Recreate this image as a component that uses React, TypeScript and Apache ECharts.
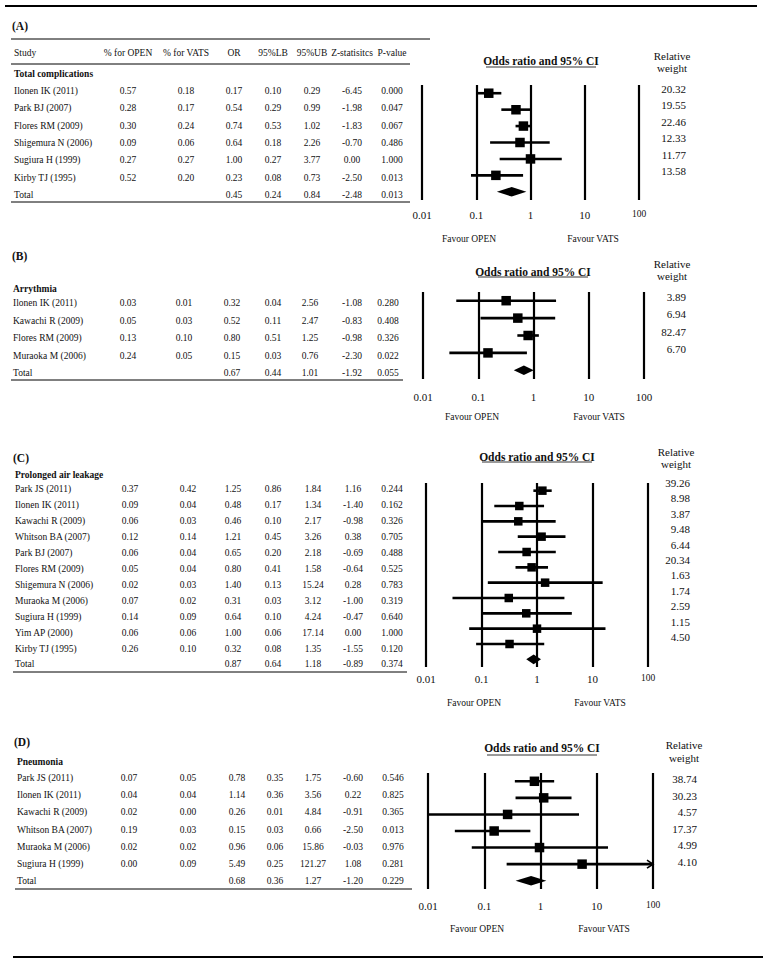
import React, { useEffect, useRef } from "react";
import * as echarts from "echarts";

// ---------- DATA ----------
const studiesA = ["Ilonen IK (2011)", "Park BJ (2007)", "Flores RM (2009)", "Shigemura N (2006)", "Sugiura H (1999)", "Kirby TJ (1995)"];
const openA = [0.57, 0.28, 0.30, 0.09, 0.27, 0.52];
const vatsA = [0.18, 0.17, 0.24, 0.06, 0.27, 0.20];
const orA = [0.17, 0.54, 0.74, 0.64, 1.00, 0.23];
const lbA = [0.10, 0.29, 0.53, 0.18, 0.27, 0.08];
const ubA = [0.29, 0.99, 1.02, 2.26, 3.77, 0.73];
const zA = [-6.45, -1.98, -1.83, -0.70, 0.00, -2.50];
const pA = [0.000, 0.047, 0.067, 0.486, 1.000, 0.013];
const weightA = [20.32, 19.55, 22.46, 12.33, 11.77, 13.58];
const totalA = [0.45, 0.24, 0.84, -2.48, 0.013];

const studiesB = ["Ilonen IK (2011)", "Kawachi R (2009)", "Flores RM (2009)", "Muraoka M (2006)"];
const openB = [0.03, 0.05, 0.13, 0.24];
const vatsB = [0.01, 0.03, 0.10, 0.05];
const orB = [0.32, 0.52, 0.80, 0.15];
const lbB = [0.04, 0.11, 0.51, 0.03];
const ubB = [2.56, 2.47, 1.25, 0.76];
const zB = [-1.08, -0.83, -0.98, -2.30];
const pB = [0.280, 0.408, 0.326, 0.022];
const weightB = [3.89, 6.94, 82.47, 6.70];
const totalB = [0.67, 0.44, 1.01, -1.92, 0.055];

const studiesC = ["Park JS (2011)", "Ilonen IK (2011)", "Kawachi R (2009)", "Whitson BA (2007)", "Park BJ (2007)", "Flores RM (2009)", "Shigemura N (2006)", "Muraoka M (2006)", "Sugiura H (1999)", "Yim AP (2000)", "Kirby TJ (1995)"];
const openC = [0.37, 0.09, 0.06, 0.12, 0.06, 0.05, 0.02, 0.07, 0.14, 0.06, 0.26];
const vatsC = [0.42, 0.04, 0.03, 0.14, 0.04, 0.04, 0.03, 0.02, 0.09, 0.06, 0.10];
const orC = [1.25, 0.48, 0.46, 1.21, 0.65, 0.80, 1.40, 0.31, 0.64, 1.00, 0.32];
const lbC = [0.86, 0.17, 0.10, 0.45, 0.20, 0.41, 0.13, 0.03, 0.10, 0.06, 0.08];
const ubC = [1.84, 1.34, 2.17, 3.26, 2.18, 1.58, 15.24, 3.12, 4.24, 17.14, 1.35];
const zC = [1.16, -1.40, -0.98, 0.38, -0.69, -0.64, 0.28, -1.00, -0.47, 0.00, -1.55];
const pC = [0.244, 0.162, 0.326, 0.705, 0.488, 0.525, 0.783, 0.319, 0.640, 1.000, 0.120];
const weightC = [39.26, 8.98, 3.87, 9.48, 6.44, 20.34, 1.63, 1.74, 2.59, 1.15, 4.50];
const totalC = [0.87, 0.64, 1.18, -0.89, 0.374];

const studiesD = ["Park JS (2011)", "Ilonen IK (2011)", "Kawachi R (2009)", "Whitson BA (2007)", "Muraoka M (2006)", "Sugiura H (1999)"];
const openD = [0.07, 0.04, 0.02, 0.19, 0.02, 0.00];
const vatsD = [0.05, 0.04, 0.00, 0.03, 0.02, 0.09];
const orD = [0.78, 1.14, 0.26, 0.15, 0.96, 5.49];
const lbD = [0.35, 0.36, 0.01, 0.03, 0.06, 0.25];
const ubD = [1.75, 3.56, 4.84, 0.66, 15.86, 121.27];
const zD = [-0.60, 0.22, -0.91, -2.50, -0.03, 1.08];
const pD = [0.546, 0.825, 0.365, 0.013, 0.976, 0.281];
const weightD = [38.74, 30.23, 4.57, 17.37, 4.99, 4.10];
const totalD = [0.68, 0.36, 1.27, -1.20, 0.229];

const headerLabels = ["% for OPEN", "% for VATS", "OR", "95%LB", "95%UB", "Z-statisitcs", "P-value"];
const axisTicks = [0.01, 0.1, 1, 10, 100];

const panels = [
  { tag: "(A)", section: "Total complications", studies: studiesA, open: openA, vats: vatsA, or: orA, lb: lbA, ub: ubA, z: zA, p: pA, w: weightA, total: totalA },
  { tag: "(B)", section: "Arrythmia", studies: studiesB, open: openB, vats: vatsB, or: orB, lb: lbB, ub: ubB, z: zB, p: pB, w: weightB, total: totalB },
  { tag: "(C)", section: "Prolonged air leakage", studies: studiesC, open: openC, vats: vatsC, or: orC, lb: lbC, ub: ubC, z: zC, p: pC, w: weightC, total: totalC },
  { tag: "(D)", section: "Pneumonia", studies: studiesD, open: openD, vats: vatsD, or: orD, lb: lbD, ub: ubD, z: zD, p: pD, w: weightD, total: totalD },
];

// ---------- LAYOUT ----------
const W = 766;
const H = 961;
const SERIF = '"Liberation Serif", "Times New Roman", serif';

const layouts = [
  { tagY: 26, tagX: 12, secY: 74, rowY0: 91, rowDy: 17.3, ruleY: 202, ruleX0: 11, ruleX1: 410, cols: [14, 128, 186, 234, 273, 312, 352, 392],
    grid: { left: 422, right: W - 639, top: 85, height: 115 }, titleX: 541, titleY: 61, ulY: 67, rwX: 672, rwY: [56, 68], wRight: 686, wY0: 89, wDy: 16.4,
    tickMargin: 9, smallHundred: true, favY: 239, favOpenX: 469, favVatsX: 593, sq: 9.5 },
  { tagY: 256, tagX: 12, secY: 289, rowY0: 303, rowDy: 17.5, ruleY: 380, ruleX0: 11, ruleX1: 403, cols: [13, 128, 184, 232, 273, 310, 352, 388],
    grid: { left: 423, right: W - 644, top: 292, height: 87 }, titleX: 533, titleY: 272, ulY: 277, rwX: 672, rwY: [264, 276], wRight: 686, wY0: 297, wDy: 17.3,
    tickMargin: 12, smallHundred: false, favY: 417, favOpenX: 472, favVatsX: 599, sq: 9.5 },
  { tagY: 458, tagX: 13, secY: 475, rowY0: 489, rowDy: 15.95, ruleY: 672, ruleX0: 13, ruleX1: 407, cols: [15, 130, 188, 233, 273, 313, 353, 392],
    grid: { left: 426, right: W - 648, top: 483, height: 184 }, titleX: 537, titleY: 457, ulY: 462, rwX: 676, rwY: [452, 464], wRight: 690, wY0: 483, wDy: 15.4,
    tickMargin: 6, smallHundred: true, favY: 703, favOpenX: 474, favVatsX: 600, sq: 8.5 },
  { tagY: 742, tagX: 14, secY: 762, rowY0: 778, rowDy: 17.2, ruleY: 889, ruleX0: 15, ruleX1: 412, cols: [17, 129, 188, 237, 275, 313, 353, 393],
    grid: { left: 428, right: W - 653, top: 773, height: 116 }, titleX: 542, titleY: 748, ulY: 755, rwX: 684, rwY: [745, 758], wRight: 697, wY0: 779, wDy: 16.6,
    tickMargin: 11, smallHundred: true, favY: 929, favOpenX: 477, favVatsX: 604, sq: 9.5 },
];

// ---------- HELPERS ----------
const txt = (x: number, y: number, text: string, size = 9.5, align = "center", weight = "normal") => ({
  type: "text",
  x,
  y,
  silent: true,
  style: { text, fill: "#111", fontFamily: SERIF, fontSize: size, fontWeight: weight, align, verticalAlign: "middle" },
});
const hline = (x1: number, x2: number, y: number, w = 1) => ({
  type: "line",
  silent: true,
  shape: { x1, y1: y, x2, y2: y },
  style: { stroke: "#000", lineWidth: w },
});

function buildOption() {
  const graphic: any[] = [];
  const grids: any[] = [];
  const xAxes: any[] = [];
  const yAxes: any[] = [];
  const series: any[] = [];

  graphic.push(hline(5, 757, 6, 2.2));
  graphic.push(hline(13, 763, 957, 2.2));

  panels.forEach((pn, k) => {
    const L = layouts[k];
    const n = pn.studies.length;
    graphic.push(txt(L.tagX, L.tagY, pn.tag, 11.5, "left", "bold"));
    if (k === 0) {
      graphic.push(hline(11, 430, 39, 1));
      graphic.push(txt(L.cols[0], 53, "Study", 9.5, "left"));
      headerLabels.forEach((h, j) => graphic.push(txt(L.cols[j + 1], 53, h)));
      graphic.push(hline(11, 410, 64, 1));
    }
    graphic.push(txt(L.cols[0], L.secY, pn.section, 9.5, "left", "bold"));
    for (let i = 0; i < n; i++) {
      const y = L.rowY0 + i * L.rowDy;
      const vals = [pn.open[i].toFixed(2), pn.vats[i].toFixed(2), pn.or[i].toFixed(2), pn.lb[i].toFixed(2), pn.ub[i].toFixed(2), pn.z[i].toFixed(2), pn.p[i].toFixed(3)];
      graphic.push(txt(L.cols[0], y, pn.studies[i], 9.5, "left"));
      vals.forEach((v, j) => graphic.push(txt(L.cols[j + 1], y, v)));
      graphic.push(txt(L.wRight, L.wY0 + i * L.wDy, pn.w[i].toFixed(2), 11, "right"));
    }
    const ty = L.rowY0 + n * L.rowDy;
    graphic.push(txt(L.cols[0], ty, "Total", 9.5, "left"));
    const tv = [pn.total[0].toFixed(2), pn.total[1].toFixed(2), pn.total[2].toFixed(2), pn.total[3].toFixed(2), pn.total[4].toFixed(3)];
    tv.forEach((v, j) => graphic.push(txt(L.cols[j + 3], ty, v)));
    graphic.push(hline(L.ruleX0, L.ruleX1, L.ruleY, 1));

    // forest-plot labels
    graphic.push(txt(L.titleX, L.titleY, "Odds ratio and 95% CI", 11.5, "center", "bold"));
    graphic.push(hline(L.titleX - 55, L.titleX + 55, L.ulY, 0.8));
    graphic.push(txt(L.rwX, L.rwY[0], "Relative", 11));
    graphic.push(txt(L.rwX, L.rwY[1], "weight", 11));
    graphic.push(txt(L.favOpenX, L.favY, "Favour OPEN", 9.5));
    graphic.push(txt(L.favVatsX, L.favY, "Favour VATS", 9.5));

    grids.push({ left: L.grid.left, right: L.grid.right, top: L.grid.top, height: L.grid.height, containLabel: false });
    xAxes.push({
      type: "log",
      logBase: 10,
      gridIndex: k,
      min: axisTicks[0],
      max: axisTicks[axisTicks.length - 1],
      axisLine: { show: false },
      axisTick: { show: false },
      splitLine: { show: true, showMinLine: true, showMaxLine: true, lineStyle: { color: "#000", width: 2.2 } },
      axisLabel: {
        margin: L.tickMargin,
        fontFamily: SERIF,
        fontSize: 11,
        color: "#111",
        showMinLabel: true,
        showMaxLabel: true,
        formatter: (v: number) => {
          const s = String(Number(v.toPrecision(3)));
          return L.smallHundred && s === "100" ? "{s|100}" : s;
        },
        rich: { s: { fontFamily: SERIF, fontSize: 9.5, color: "#111" } },
      },
    });
    yAxes.push({ type: "value", gridIndex: k, show: false, inverse: true, min: -0.5, max: n + 0.5 });

    const studyData = pn.studies.map((_, i) => [i, pn.or[i], pn.lb[i], pn.ub[i]]);
    const sq = L.sq;
    series.push({
      type: "custom",
      xAxisIndex: k,
      yAxisIndex: k,
      clip: false,
      silent: true,
      encode: { x: [1, 2, 3], y: 0 },
      data: studyData,
      renderItem: (_p: any, api: any) => {
        const row = api.value(0);
        const or = api.value(1);
        const lb = api.value(2);
        const ub = api.value(3);
        const maxX = axisTicks[axisTicks.length - 1];
        const clipped = ub > maxX;
        const p0 = api.coord([lb, row]);
        const p1 = api.coord([clipped ? maxX : ub, row]);
        const pc = api.coord([or, row]);
        const children: any[] = [
          { type: "line", shape: { x1: p0[0], y1: p0[1], x2: p1[0], y2: p1[1] }, style: { stroke: "#000", lineWidth: 2.6 } },
          { type: "rect", shape: { x: pc[0] - sq / 2, y: pc[1] - sq / 2, width: sq, height: sq }, style: { fill: "#000" } },
        ];
        if (clipped) {
          children.push({
            type: "polyline",
            shape: { points: [[p1[0] - 6, p1[1] - 4], [p1[0], p1[1]], [p1[0] - 6, p1[1] + 4]] },
            style: { stroke: "#000", lineWidth: 1.6, fill: null },
          });
        }
        return { type: "group", children };
      },
    });
    series.push({
      type: "custom",
      xAxisIndex: k,
      yAxisIndex: k,
      clip: false,
      silent: true,
      encode: { x: [1, 2, 3], y: 0 },
      data: [[n, pn.total[0], pn.total[1], pn.total[2]]],
      renderItem: (_p: any, api: any) => {
        const row = api.value(0);
        const pc = api.coord([api.value(1), row]);
        const pl = api.coord([api.value(2), row]);
        const pr = api.coord([api.value(3), row]);
        const h = 4.8;
        return {
          type: "polygon",
          shape: { points: [[pl[0], pl[1]], [pc[0], pc[1] - h], [pr[0], pr[1]], [pc[0], pc[1] + h]] },
          style: { fill: "#000" },
        };
      },
    });
  });

  return {
    animation: false,
    backgroundColor: "#fff",
    grid: grids,
    xAxis: xAxes,
    yAxis: yAxes,
    series,
    graphic,
  };
}

export default function App() {
  const ref = useRef<HTMLDivElement>(null);
  useEffect(() => {
    if (!ref.current) return;
    const chart = echarts.init(ref.current, undefined, { renderer: "svg" });
    chart.setOption(buildOption() as any);
    return () => chart.dispose();
  }, []);
  return <div ref={ref} style={{ position: "absolute", left: 0, top: 0, width: W, height: H, background: "#fff" }} />;
}
